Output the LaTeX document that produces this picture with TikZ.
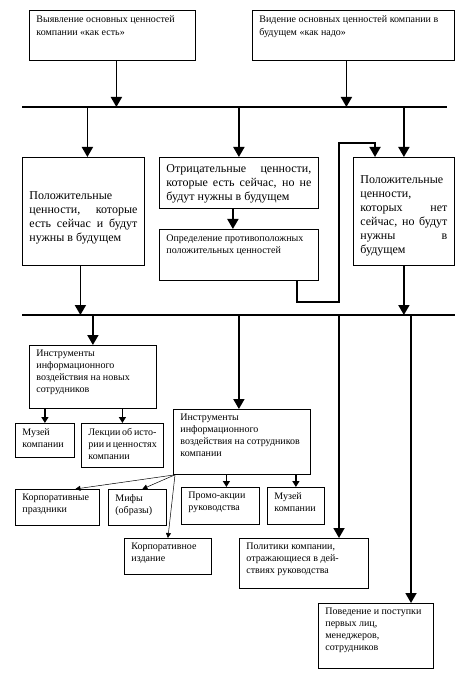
\documentclass[tikz,border=0pt]{standalone}
\usepackage{fontspec}
\setmainfont{Liberation Serif}
\usetikzlibrary{arrows.meta}
\hyphenpenalty=10000
\exhyphenpenalty=10000
\newcommand{\boxtext}[3]{\parbox[t][#2][t]{#1}{#3}}

\begin{document}
\begin{tikzpicture}[x=1pt,y=-1pt,
  box/.style={draw,line width=0.8pt,anchor=north west,inner xsep=7pt,inner ysep=5pt},
  big/.style={box,font=\fontsize{12}{14}\selectfont},
  small/.style={box,font=\fontsize{10}{12}\selectfont},
  arr/.style={line width=1.8pt,-{Triangle[length=10pt,width=11pt]}},
  sarr/.style={line width=1.3pt,-{Triangle[length=6pt,width=7pt]}},
  tarr/.style={line width=0.5pt,-{Triangle[length=5pt,width=5pt]}},
  bus/.style={line width=1.8pt}]
  \useasboundingbox (0,0) rectangle (466,700);

  %top boxes
  \node[box,font=\fontsize{10}{13}\selectfont] (b1) at (29,10)
    {\boxtext{152pt}{40pt}{Выявление основных ценностей\\компании «как есть»}};
  \node[box,font=\fontsize{10}{13}\selectfont] (b2) at (252,10)
    {\boxtext{188pt}{40pt}{Видение основных ценностей компании в\\будущем «как надо»}};

  \coordinate (bus1w) at (22,107);
  \coordinate (bus1e) at (447,107);
  \draw[bus] (bus1w) -- (bus1e);
  \draw[arr] ([xshift=4pt]b1.south) -- ([xshift=4pt]b1.south |- bus1w);
  \draw[arr] ([xshift=-7pt]b2.south) -- ([xshift=-7pt]b2.south |- bus1w);

  %values
  \node[big] (bL) at (22,157)
    {\boxtext{108pt}{98pt}{\vspace*{29pt}Положительные\\ ценности, которые\linebreak есть сейчас и будут\linebreak нужны в будущем}};
  \node[big] (bN) at (159,157)
    {\boxtext{145pt}{41pt}{\vspace*{2pt}Отрицательные ценности,\linebreak которые есть сейчас, но не\linebreak будут нужны в будущем}};
  \node[small] (bD) at (159,229)
    {\boxtext{145pt}{41pt}{Определение противоположных\\положительных ценностей}};
  \node[big] (bR) at (353,157)
    {\boxtext{87pt}{98pt}{\vspace*{13pt}Положительные\\ ценности,\\ которых нет\linebreak сейчас, но будут\linebreak нужны в\linebreak будущем}};

  \draw[arr] ([xshift=4pt]bL.north |- bus1w) -- ([xshift=4pt]bL.north);
  \draw[arr] (bN.north |- bus1w) -- (bN.north);
  \draw[arr] (bR.north |- bus1w) -- (bR.north);
  \draw[arr] ([xshift=-6pt]bN.south) -- ([xshift=-6pt]bD.north);
  \coordinate (turn) at (339,302);
  \coordinate (over) at (375,143);
  \draw[arr] ([xshift=-22pt]bD.south east) |- (turn) |- (over) -- (over |- bR.north);

  \coordinate (bus2w) at (22,315);
  \coordinate (bus2e) at (455,315);
  \draw[bus] (bus2w) -- (bus2e);
  \draw[arr] ([xshift=-3pt]bL.south) -- ([xshift=-3pt]bL.south |- bus2w);
  \draw[arr] (bR.south) -- (bR.south |- bus2w);

  %tools
  \node[small] (bNew) at (29,345)
    {\boxtext{113pt}{53pt}{Инструменты\\информационного\\воздействия на новых\\сотрудников}};
  \node[small] (bM1) at (15,423) {\boxtext{45pt}{24pt}{Музей\\компании}};
  \node[small] (bLe) at (81,423)
    {\boxtext{68pt}{34pt}{Лекции об~исто-\\рии~и~ценностях\\компании}};
  \node[small] (bE) at (173,409)
    {\boxtext{123pt}{55pt}{Инструменты\\информационного\\воздействия~на~сотрудников\\компании}};
  \node[small] (bP) at (181,487) {\boxtext{64pt}{27pt}{Промо-акции\\руководства}};
  \node[small] (bM2) at (267,487) {\boxtext{43pt}{27pt}{Музей\\компании}};
  \node[small] (bH) at (15,489) {\boxtext{70pt}{26pt}{Корпоративные\\праздники}};
  \node[small] (bMy) at (108,489) {\boxtext{44pt}{26pt}{Мифы\\(образы)}};
  \node[small] (bEd) at (124,538) {\boxtext{73pt}{26pt}{Корпоративное\\издание}};
  \node[small] (bPol) at (239,538)
    {\boxtext{115pt}{40pt}{Политики компании,\\отражающиеся в~дей-\\ствиях руководства}};
  \node[small] (bBeh) at (318,603)
    {\boxtext{101pt}{55pt}{Поведение и~поступки\\первых лиц,\\менеджеров,\\сотрудников}};

  \coordinate (drop3) at (339,315);
  \coordinate (drop4) at (411,315);
  \draw[arr] (bNew.north |- bus2w) -- (bNew.north);
  \draw[arr] ([xshift=-3pt]bE.north |- bus2w) -- ([xshift=-3pt]bE.north);
  \draw[arr] (drop3) -- (drop3 |- bPol.north);
  \draw[arr] (drop4) -- (drop4 |- bBeh.north);

  \draw[sarr] (bM1.north |- bNew.south) -- (bM1.north);
  \draw[sarr] (bLe.north |- bNew.south) -- (bLe.north);
  \draw[sarr] ([xshift=6pt]bP.north |- bE.south) -- ([xshift=6pt]bP.north);
  \draw[sarr] (bM2.north |- bE.south) -- (bM2.north);

  \coordinate (fan) at ([xshift=2pt]bE.south west);
  \draw[tarr] (fan) -- ([xshift=18pt]bH.north);
  \draw[tarr] (fan) -- ([xshift=5pt]bMy.north);
  \draw[tarr] (fan) -- (bEd.north);
\end{tikzpicture}
\end{document}
